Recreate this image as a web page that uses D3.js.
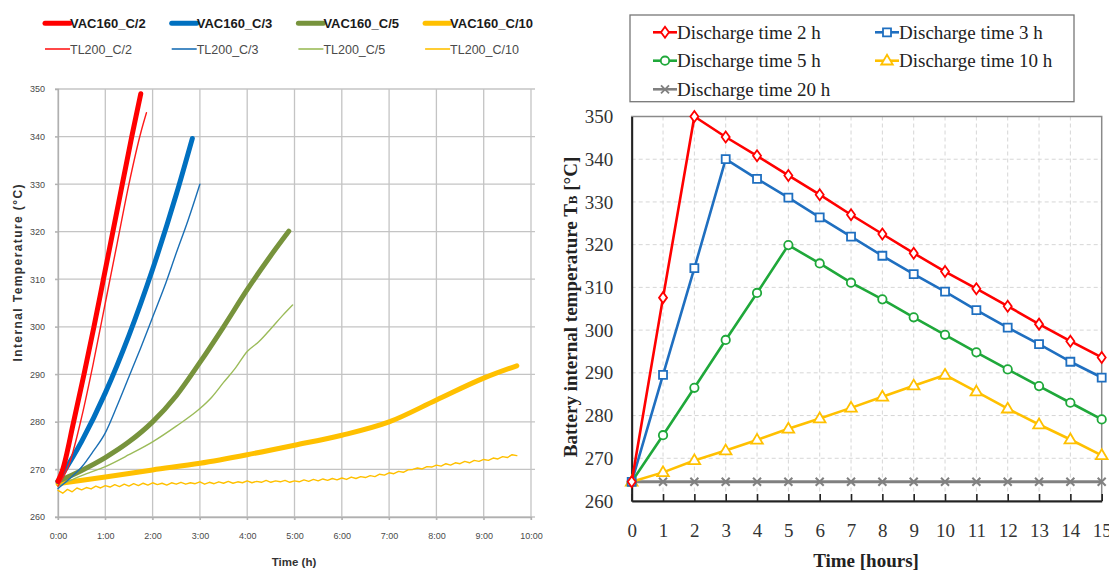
<!DOCTYPE html>
<html><head><meta charset="utf-8">
<script src="https://cdn.jsdelivr.net/npm/d3@7"></script>
<style>body{margin:0;background:#fff}</style>
</head><body>
<svg id="c" width="1109" height="572" xmlns="http://www.w3.org/2000/svg"></svg>
<script>
// ---------------- LEFT CHART DATA ----------------
const leftTimeTicks = [0,1,2,3,4,5,6,7,8,9,10];
const leftTimeLabels = ["0:00","1:00","2:00","3:00","4:00","5:00","6:00","7:00","8:00","9:00","10:00"];
const leftTempTicks = [260,270,280,290,300,310,320,330,340,350];

const vac2Time  = [0,0.1,0.33,0.55,0.76,0.96,1.16,1.36,1.56,1.75];
const vac2Temp  = [267.5,270,280,290,300,310,320,330,340,349];
const tl2Time   = [0,0.25,0.5,0.75,1,1.25,1.5,1.75,1.87];
const tl2Temp   = [266.5,271.5,281,292.5,305,317.5,330,340.8,345];
const vac3Time  = [0,0.5,1,1.5,2,2.5,2.84];
const vac3Temp  = [267.5,275.9,286.1,298.2,312.1,327.8,339.6];
const tl3Time   = [0,0.25,0.5,0.75,1,1.25,1.5,1.75,2,2.25,2.5,2.75,3];
const tl3Temp   = [266,268.1,270.5,273.9,277.7,283.4,289.5,295.6,302,308.4,315.5,322.4,330];
const vac5Time  = [0,0.5,1,1.5,2,2.5,3,3.5,4,4.5,4.88];
const vac5Temp  = [267.5,269.8,272.5,275.8,280,285.5,292.5,300,307.8,315,320.1];
const tl5Time   = [0,0.5,1,1.5,2,2.5,3,3.25,3.5,3.75,4,4.25,4.5,4.75,4.96];
const tl5Temp   = [266.5,268.7,270.6,273.1,275.8,279.1,282.8,285.2,288.3,291.3,294.8,296.9,299.6,302.4,304.6];
const vac10Time = [0,1,2,3,4,5,6,7,8,9,9.7];
const vac10Temp = [267,268.4,269.9,271.3,273.1,275.1,277.2,280,284.6,289.2,291.8];
const tl10Temp  = [265.6,265.0,265.8,265.3,266.1,265.7,266.2,265.9,266.5,266.1,
                   266.6,266.3,266.8,266.4,266.9,266.5,267.0,266.6,267.1,266.7,
                   267.2,266.8,267.1,266.7,267.2,266.9,267.3,266.9,267.2,267.0,
                   267.4,266.9,267.3,267.0,267.4,267.1,267.5,267.1,267.4,267.2,
                   267.6,267.2,267.5,267.3,267.7,267.3,267.6,267.4,267.7,267.3,
                   267.6,267.4,267.8,267.5,267.9,267.6,268.0,267.7,268.1,267.8,
                   268.2,267.9,268.4,268.1,268.5,268.3,268.7,268.5,269.0,268.8,
                   269.3,269.1,269.6,269.4,269.9,270.0,270.3,270.1,270.6,270.5,
                   270.9,270.7,271.2,270.9,271.4,271.2,271.7,271.4,271.9,271.7,
                   272.1,271.9,272.4,272.2,272.7,272.5,273.1,272.9];
const tl10Time  = tl10Temp.map((v,i)=>i/10);

const leftSeriesNames = ["VAC160_C/2","VAC160_C/3","VAC160_C/5","VAC160_C/10",
                         "TL200_C/2","TL200_C/3","TL200_C/5","TL200_C/10"];
const leftColors = ["#ff0000","#0070c0","#77933c","#ffc000",
                    "#ff1a1a","#1a6fb5","#9bbb59","#ffc000"];

// ---------------- RIGHT CHART DATA ----------------
const hours = [0,1,2,3,4,5,6,7,8,9,10,11,12,13,14,15];
const rightTempTicks = [260,270,280,290,300,310,320,330,340,350];
const dis2h  = [264.5,307.6,350,345.2,340.8,336.2,331.7,327,322.5,318,313.7,309.7,305.6,301.4,297.4,293.6];
const dis3h  = [264.5,289.5,314.5,340,335.4,331,326.4,321.9,317.4,313.1,309,304.7,300.6,296.7,292.6,288.9];
const dis5h  = [264.5,275.4,286.5,297.7,308.7,319.9,315.6,311.1,307.2,303,298.9,294.8,290.8,286.9,283,279.1];
const dis10h = [264.5,266.7,269.5,271.8,274.3,276.9,279.3,281.8,284.4,287,289.5,285.6,281.6,277.9,274.4,270.7];
const dis20h = [264.5,264.5,264.5,264.5,264.5,264.5,264.5,264.5,264.5,264.5,264.5,264.5,264.5,264.5,264.5,264.5];
const rightNames  = ["Discharge time 2 h","Discharge time 3 h","Discharge time 5 h","Discharge time 10 h","Discharge time 20 h"];
const rightColors = ["#ff0000","#1f6fc0","#1fa83a","#ffc000","#808080"];

// ---------------- DRAW ----------------
const svg = d3.select("#c");

// ===== LEFT =====
const xL = d3.scaleLinear().domain([0,10]).range([58,531]);
const yL = d3.scaleLinear().domain([260,350]).range([517,89]);
const gL = svg.append("g");
const gridC = "#c4c4c4";
gL.append("g").selectAll("line").data(leftTempTicks).join("line")
  .attr("x1",55).attr("x2",535).attr("y1",d=>yL(d)).attr("y2",d=>yL(d))
  .attr("stroke",gridC).attr("stroke-width",1.3);
gL.append("g").selectAll("line").data(leftTimeTicks).join("line")
  .attr("x1",d=>xL(d)).attr("x2",d=>xL(d)).attr("y1",89).attr("y2",520)
  .attr("stroke",gridC).attr("stroke-width",1.3);

const axYL = gL.append("g").attr("transform","translate(58,0)")
  .call(d3.axisLeft(yL).tickValues(leftTempTicks).tickSize(3).tickPadding(10));
const axXL = gL.append("g").attr("transform","translate(0,517)")
  .call(d3.axisBottom(xL).tickValues(leftTimeTicks).tickFormat((d,i)=>leftTimeLabels[i]).tickSize(3).tickPadding(13));
[axYL,axXL].forEach(a=>{
  a.select(".domain").attr("stroke","#b0b0b0").attr("stroke-width",1.3);
  a.selectAll(".tick line").attr("stroke","#b0b0b0");
  a.selectAll("text").attr("font-family","Liberation Sans, Arial, sans-serif").attr("font-size",9).attr("fill","#4a4a4a");
});

const lineL = d3.line().x(d=>xL(d[0])).y(d=>yL(d[1])).curve(d3.curveMonotoneX);
const zipL = (t,v)=>t.map((x,i)=>[x,v[i]]);
const leftSeries = [
  {t:tl10Time,v:tl10Temp,c:leftColors[7],w:1.4,lin:true},
  {t:vac10Time,v:vac10Temp,c:leftColors[3],w:5},
  {t:tl5Time,v:tl5Temp,c:leftColors[6],w:1.4},
  {t:vac5Time,v:vac5Temp,c:leftColors[2],w:5},
  {t:tl3Time,v:tl3Temp,c:leftColors[5],w:1.4},
  {t:vac3Time,v:vac3Temp,c:leftColors[1],w:5},
  {t:tl2Time,v:tl2Temp,c:leftColors[4],w:1.4},
  {t:vac2Time,v:vac2Temp,c:leftColors[0],w:5},
];
leftSeries.forEach(s=>{
  const ln = s.lin ? d3.line().x(d=>xL(d[0])).y(d=>yL(d[1])) : lineL;
  gL.append("path").attr("d",ln(zipL(s.t,s.v))).attr("fill","none")
    .attr("stroke",s.c).attr("stroke-width",s.w).attr("stroke-linecap","round").attr("stroke-linejoin","round");
});

gL.append("text").attr("x",294).attr("y",566).attr("text-anchor","middle")
  .attr("font-family","Liberation Sans, Arial, sans-serif").attr("font-weight","bold").attr("font-size",11.5).attr("fill","#333")
  .text("Time (h)");
gL.append("text").attr("transform","translate(22,273) rotate(-90)").attr("text-anchor","middle")
  .attr("font-family","Liberation Sans, Arial, sans-serif").attr("font-weight","bold").attr("font-size",12).attr("fill","#333")
  .attr("textLength",177).attr("lengthAdjust","spacing")
  .text("Internal Temperature (°C)");

// left legend
const legL = gL.append("g");
leftSeriesNames.forEach((n,i)=>{
  const col = i%4, row = Math.floor(i/4);
  const x0 = 45 + col*126.7, y0 = row===0 ? 23.3 : 49;
  legL.append("line").attr("x1",x0).attr("x2",x0+25).attr("y1",y0).attr("y2",y0)
    .attr("stroke",leftColors[i]).attr("stroke-width",row===0?5:1.6).attr("stroke-linecap",row===0?"round":"butt");
  legL.append("text").attr("x",x0+25).attr("y",y0+4.5)
    .attr("font-family","Liberation Sans, Arial, sans-serif").attr("font-size",row===0?13:12.5)
    .attr("font-weight",row===0?"bold":"normal").attr("fill",row===0?"#1a1a1a":"#4a4a4a").text(n);
});

// ===== RIGHT =====
const xR = d3.scaleLinear().domain([0,15]).range([631.7,1101.7]);
const yR = d3.scaleLinear().domain([260,350]).range([501,116.5]);
const gR = svg.append("g");
const serif = "Liberation Serif, Times New Roman, serif";

gR.append("g").selectAll("line").data(rightTempTicks.slice(1,-1)).join("line")
  .attr("x1",631.7).attr("x2",1101.7).attr("y1",d=>yR(d)).attr("y2",d=>yR(d))
  .attr("stroke","#d6d6d6").attr("stroke-width",1).attr("stroke-dasharray","4,3");
gR.append("g").selectAll("line").data(hours.slice(1,-1)).join("line")
  .attr("x1",d=>xR(d)).attr("x2",d=>xR(d)).attr("y1",116.5).attr("y2",501)
  .attr("stroke","#d6d6d6").attr("stroke-width",1).attr("stroke-dasharray","4,3");
gR.append("rect").attr("x",631.7).attr("y",116.5).attr("width",470).attr("height",384.5)
  .attr("fill","none").attr("stroke","#8a8a8a").attr("stroke-width",1.5);

const axYR = gR.append("g").attr("transform","translate(631.7,0)")
  .call(d3.axisLeft(yR).tickValues(rightTempTicks).tickSize(0).tickPadding(18.5));
const axXR = gR.append("g").attr("transform","translate(0,501)")
  .call(d3.axisBottom(xR).tickValues(hours).tickSizeInner(-7).tickSizeOuter(0).tickPadding(22.5));
[axYR,axXR].forEach(a=>{
  a.select(".domain").attr("stroke","#222").attr("stroke-width",2);
  a.selectAll(".tick line").attr("stroke","#222").attr("stroke-width",1.6);
  a.selectAll("text").attr("font-family",serif).attr("font-size",19).attr("fill","#333");
});

const markers = {
  diamond: "M0,-5.5L4,0L0,5.5L-4,0Z",
  square: "M-4,-4L4,-4L4,4L-4,4Z",
  circle: "M4.2,0A4.2,4.2,0,1,1,-4.2,0A4.2,4.2,0,1,1,4.2,0Z",
  triangle: "M0,-6L5.8,3.8L-5.8,3.8Z",
  cross: "M-4,-4L4,4M-4,4L4,-4"
};
const rightSeries = [
  {v:dis20h,c:rightColors[4],m:"cross"},
  {v:dis10h,c:rightColors[3],m:"triangle"},
  {v:dis5h,c:rightColors[2],m:"circle"},
  {v:dis3h,c:rightColors[1],m:"square"},
  {v:dis2h,c:rightColors[0],m:"diamond"},
];
const lineR = d3.line().x((d,i)=>xR(hours[i])).y(d=>yR(d));
rightSeries.forEach(s=>{
  gR.append("path").attr("d",lineR(s.v)).attr("fill","none").attr("stroke",s.c)
    .attr("stroke-width",s.m==="cross"?3:2.6).attr("stroke-linejoin","round");
  gR.append("g").selectAll("path").data(s.v).join("path")
    .attr("transform",(d,i)=>`translate(${xR(hours[i])},${yR(d)})`)
    .attr("d",markers[s.m]).attr("fill",s.m==="cross"?"none":"#fff")
    .attr("stroke",s.c).attr("stroke-width",s.m==="cross"?2:1.8);
});

gR.append("text").attr("x",866).attr("y",567).attr("text-anchor","middle")
  .attr("font-family",serif).attr("font-weight","bold").attr("font-size",19).attr("fill","#222")
  .text("Time [hours]");
const yt = gR.append("text").attr("transform","translate(577,307) rotate(-90)").attr("text-anchor","middle")
  .attr("font-family",serif).attr("font-weight","bold").attr("font-size",19).attr("fill","#222");
yt.append("tspan").text("Battery internal temperature T");
yt.append("tspan").attr("font-size",13).text("B");
yt.append("tspan").text(" [°C]");

// right legend
const legR = gR.append("g");
legR.append("rect").attr("x",630).attr("y",15).attr("width",444).attr("height",86.7)
  .attr("fill","#fff").attr("stroke","#777").attr("stroke-width",1.3);
const legMarks = ["diamond","square","circle","triangle","cross"];
rightNames.forEach((n,i)=>{
  const col = i%2, row = Math.floor(i/2);
  const x0 = col===0 ? 653 : 875, y0 = [32.3,60.7,89.3][row];
  legR.append("line").attr("x1",x0).attr("x2",x0+24).attr("y1",y0).attr("y2",y0)
    .attr("stroke",rightColors[i]).attr("stroke-width",2.6);
  legR.append("path").attr("transform",`translate(${x0+12},${y0})`).attr("d",markers[legMarks[i]])
    .attr("fill",legMarks[i]==="cross"?"none":"#fff").attr("stroke",rightColors[i]).attr("stroke-width",1.8);
  legR.append("text").attr("x",x0+24).attr("y",y0+6.5)
    .attr("font-family",serif).attr("font-size",19).attr("fill","#222").text(n);
});
</script>
</body></html>
